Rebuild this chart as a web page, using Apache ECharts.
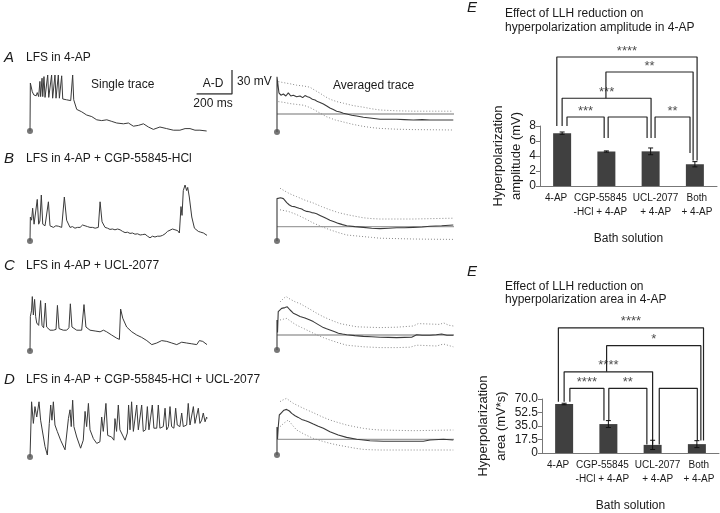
<!DOCTYPE html>
<html><head><meta charset="utf-8">
<script src="https://cdn.jsdelivr.net/npm/echarts/dist/echarts.min.js"></script>
<style>html,body{margin:0;padding:0;background:#fff}#c{width:720px;height:513px}</style>
</head><body><div id="c"></div>
<script>
// ---------------- DATA ----------------
// Time in ms, membrane potential in mV (relative)
const traceA = [[0,0],[2,60],[13,49],[22,45],[28,47],[35,44],[41,48],[49,43],[56,62],[60,43],[68,66],[72,43],[79,68],[85,42],[100,70],[106,42],[122,70],[128,41],[141,70],[147,41],[160,70],[166,41],[179,69],[185,40],[207,39],[230,38],[241,70],[247,39],[264,27],[292,24],[320,20],[349,18],[377,14],[405,13],[434,14],[462,12],[490,10],[528,9],[556,10],[584,6],[612,7],[641,9],[669,5],[697,2],[734,5],[772,3],[810,1],[847,1],[876,3],[904,3],[932,1],[960,1],[998,0]];
const avgMeanA = [[0,0],[0,69],[11,49],[22,46],[36,47.5],[50,45],[64,49],[78,45],[92,46],[111,44],[130,45],[145,43],[158,45.5],[172,44],[186,43],[200,41],[215,40],[229,38],[243,37],[262,35],[281,32.5],[299,30],[318,28],[337,26],[356,25],[375,23.5],[394,22.5],[422,21],[450,20],[488,18.5],[525,17.5],[582,16],[630,16],[676,16],[720,15.5],[770,15],[820,15.5],[864,15],[930,15],[996,15]];
const avgUpperA = [[8,63],[30,62],[55,61],[80,60],[111,58.5],[150,57.5],[186,56],[215,52],[243,48.5],[270,44.5],[299,41],[337,38],[375,36],[430,33],[488,31],[535,29],[582,27.5],[676,26.5],[770,26],[880,26],[996,26]];
const avgLowerA = [[8,38],[40,37],[74,35.5],[110,34.5],[149,33.5],[175,31.5],[196,29.5],[240,24],[281,19],[330,15],[375,12.5],[430,9.5],[488,7],[535,5.5],[582,4.5],[676,3.5],[770,3],[880,2.8],[996,2.5]];
const baselineA = 22.5;

const traceB = [[0,0],[2,30],[9,26],[15,41],[23,21],[30,23],[41,52],[49,21],[56,25],[64,57.5],[72,21],[85,19],[104,49],[113,19],[132,17],[146,19],[160,18.5],[179,17],[194,55],[207,26],[226,17],[240,18],[254,16],[268,17],[283,17],[297,20],[311,19],[325,18],[339,17],[354,17],[368,16],[386,17],[396,49],[407,24],[424,17],[438,16],[452,14.5],[466,15],[480,14],[495,15],[509,14],[523,12],[537,10.5],[551,11],[565,9.5],[579,10],[593,8.5],[608,9],[622,7.5],[636,8],[650,8.5],[664,6],[678,4],[692,6],[706,5],[720,6],[735,6],[749,7],[763,9],[777,12],[791,13.5],[805,15],[819,14],[834,13],[844,10],[853,43],[859,32],[866,63],[876,70],[885,63],[891,67],[900,55],[914,30],[929,16],[940,14],[951,12],[965,11],[980,10],[990,9],[1000,7]];
const avgMeanB = [[0,0],[0,53],[7,51],[20,54],[36,53],[55,48],[70,45],[83,43.5],[97,43],[111,42],[125,41],[140,40],[154,38],[168,37],[182,36.5],[196,35.5],[210,35],[224,34],[243,32],[262,30],[280,28],[299,26],[323,24],[347,22],[370,20.5],[394,19],[440,18],[488,17],[535,16],[582,15.5],[630,16],[676,16.5],[720,16.5],[770,17],[820,17.5],[864,18.5],[930,19],[996,20]];
const avgUpperB = [[17,66],[40,63],[64,60],[88,57.5],[111,55.5],[158,51],[205,47.5],[252,43],[299,39],[347,35.5],[394,33],[440,31],[488,29],[535,28],[582,27.5],[676,27.5],[770,27.5],[880,28],[996,28.5]];
const avgLowerB = [[17,39],[40,38],[64,37],[88,35],[111,33],[158,28],[205,22.5],[252,18],[299,14],[347,10.5],[394,7.5],[440,6.5],[488,5.5],[535,4.5],[582,3.5],[676,3],[770,2.5],[880,2.2],[996,2]];
const baselineB = 18;

const traceC = [[0,0],[2,43],[9,51],[13,68],[19,45],[26,64.5],[32,43],[38,35],[49,32],[60,63],[68,32],[77,29],[87,60],[94,30],[113,26],[132,26],[147,27],[155,57],[164,28],[188,26],[207,26],[220,29],[228,59],[237,30],[264,26],[292,26],[305,58],[316,30],[339,26],[368,25],[396,24],[415,26],[433,24],[461,20],[490,16],[505,14.5],[512,52.5],[524,41],[546,30],[575,24],[603,20],[631,17],[660,13],[688,8],[716,10],[744,13],[773,12],[801,10],[829,8],[857,11],[885,10],[914,9],[942,8],[957,13],[976,12],[1000,8]];
const avgMeanC = [[0,0],[0,37.5],[3,22],[7,48],[26,52],[45,53],[58,54],[74,50],[92,46],[111,44],[130,42],[158,40],[186,37.5],[205,35.5],[224,33],[243,30.5],[262,28],[280,26.5],[299,25],[323,23],[347,21],[370,20],[394,19],[440,18],[488,17],[535,16.5],[582,16],[630,15.8],[676,15.5],[720,15.8],[761,16],[789,19],[820,18.5],[864,18.5],[900,19],[930,20],[960,18.5],[996,18.5]];
const avgUpperC = [[17,60],[35,64],[51,67],[67,64.5],[83,62.5],[105,60],[130,58],[158,54.5],[186,51],[224,46],[262,41.5],[309,37],[356,33],[403,31],[450,29],[516,28.5],[582,28],[676,28.5],[770,30],[798,33],[860,32.5],[921,32],[940,34],[970,31],[996,30]];
const avgLowerC = [[17,37.5],[36,38.5],[55,39.5],[83,35],[111,31],[140,28],[168,25],[196,22],[224,19],[262,15.5],[299,12.5],[347,9],[394,6],[440,5],[488,4],[535,3.5],[582,3],[676,3],[752,3.5],[789,6],[850,5.5],[902,5],[940,7.5],[996,4]];
const baselineC = 18.75;

const traceD = [[0,0],[9,69],[19,42],[28,63],[38,50],[51,69],[60,46],[72,30],[85,13],[98,2.5],[109,42],[117,65],[124,46],[132,69],[141,40],[154,32],[173,21],[198,9],[217,48],[226,59],[233,38],[241,71],[248,38],[264,25],[286,11],[301,21],[311,57],[320,38],[330,67],[339,34],[358,23],[377,17],[395,19],[405,50],[414,32],[429,67],[439,27],[461,25],[474,21],[480,48],[489,32],[499,65],[508,34],[537,21],[550,30],[557,65],[565,34],[574,69],[584,32],[593,30],[603,65],[612,34],[621,32],[631,65],[640,32],[653,34],[663,63],[672,34],[682,32],[691,65],[700,36],[716,36],[725,65],[734,36],[753,38],[763,61],[772,34],[782,38],[791,63],[800,38],[813,36],[823,61],[832,40],[847,38],[857,55],[866,38],[885,40],[894,67],[904,40],[913,42],[923,63],[932,42],[941,44],[951,61],[960,42],[970,46],[979,55],[989,44],[998,50],[1000,48]];
const avgMeanD = [[0,0],[0,35],[3,20],[7,35],[13,50],[26,53],[39,56],[54,57],[70,55],[83,52],[102,49],[120,47],[139,44.5],[158,43],[177,41.6],[205,38.7],[233,36],[262,33.3],[299,29.2],[346,25],[393,22],[450,19.6],[525,17.9],[601,17.1],[714,17.1],[827,17.1],[864,18.75],[940,19.6],[996,18.75]];
const avgUpperD = [[17,66.7],[35,69],[54,70.8],[73,67.5],[92,64.6],[130,60.4],[168,56.5],[205,52.9],[252,48],[299,43.75],[346,40.5],[393,37.5],[440,35.3],[488,33.3],[535,32],[582,31.25],[676,30.8],[770,30.4],[880,30.8],[996,31.25]];
const avgLowerD = [[17,35.4],[40,40],[64,43.75],[88,37],[111,31.25],[158,25.5],[205,20.8],[252,17.5],[299,14.6],[346,12.3],[393,10.4],[440,8.5],[488,7],[535,6.5],[582,6.25],[676,6.25],[770,6.25],[880,6.25],[996,6.25]];
const baselineD = 19.6;

const scaleBarMs = 200, scaleBarMv = 30;

const categories = ['4-AP', 'CGP-55845\n-HCl + 4-AP', 'UCL-2077\n+ 4-AP', 'Both\n+ 4-AP'];
const ampValues = [7.05, 4.6, 4.62, 2.9];
const ampErrors = [0.15, 0.08, 0.45, 0.35];
const ampTicks = [0, 2, 4, 6, 8];
const areaValues = [63.5, 37.5, 10.5, 11.5];
const areaErrors = [1, 4.5, 6, 4.5];
const areaTicks = [0, 17.5, 35, 52.5, 70];
// comparisons: [group i, group j, significance]
const ampComparisons = [[0,1,'***'],[1,2,''],[2,3,'**'],[0,2,'***'],[1,3,'**'],[0,3,'****']];
const areaComparisons = [[0,1,'****'],[1,2,'**'],[2,3,''],[0,2,'****'],[1,3,'*'],[0,3,'****']];

// ---------------- LAYOUT ----------------
const FONT = '"Liberation Sans", Arial, Helvetica, sans-serif';
const TXT = '#1a1a1a';
const MS_SPAN = 1000, PX_SPAN = 177, MV_PER_PX = 1.25, V_MIN = -15, V_MAX = 85;
// bracket geometry: [leftX, rightX, levelY, leftEndY, rightEndY] (data units)
const ampBracketLayout = [[0.11,0.95,9.2,8.0,6.4],[1.04,1.92,9.2,6.4,6.4],[2.10,2.89,9.2,6.4,4.4],[0.0,2.01,11.7,8.0,6.4],[0.99,2.96,15.2,11.7,3.4],[-0.12,3.05,17.2,8.0,3.4]];
const areaBracketLayout = [[0.13,0.90,83.4,66.6,43],[1.01,1.87,83.4,43,13],[2.15,3.01,83.4,13,18],[0.0,2.0,104,66.6,13],[0.96,3.09,136.6,104,18],[-0.13,3.15,159,66.6,18]];
// horizontal nudges of category labels (px, negative = left)
const labelShift = [-6, -6, 5, 2];

const grids = [], xAxes = [], yAxes = [], series = [];
function addGrid(g, x, y) {
  const gi = grids.length;
  grids.push(g);
  xAxes.push(Object.assign({ gridIndex: gi }, x));
  yAxes.push(Object.assign({ gridIndex: gi }, y));
  return gi;
}
function traceGrid(left, y0) {
  return addGrid({ left: left, top: y0 - V_MAX / MV_PER_PX, width: PX_SPAN, height: (V_MAX - V_MIN) / MV_PER_PX },
    { type: 'value', min: 0, max: MS_SPAN, show: false },
    { type: 'value', min: V_MIN, max: V_MAX, show: false });
}
function lineS(gi, data, style, z) {
  series.push({ type: 'line', xAxisIndex: gi, yAxisIndex: gi, data: data, symbol: 'none', silent: true,
    lineStyle: style, z: z || 2, animation: false });
}
function dotS(gi, pt) {
  series.push({ type: 'scatter', xAxisIndex: gi, yAxisIndex: gi, data: [pt], symbolSize: 6,
    itemStyle: { color: '#555' }, z: 5, animation: false });
}

const panels = [
  { single: traceA, mean: avgMeanA, up: avgUpperA, lo: avgLowerA, base: baselineA, y0s: [131, 132] },
  { single: traceB, mean: avgMeanB, up: avgUpperB, lo: avgLowerB, base: baselineB, y0s: [241, 241] },
  { single: traceC, mean: avgMeanC, up: avgUpperC, lo: avgLowerC, base: baselineC, y0s: [351, 350] },
  { single: traceD, mean: avgMeanD, up: avgUpperD, lo: avgLowerD, base: baselineD, y0s: [457, 455] }
];
panels.forEach(p => {
  const g1 = traceGrid(30, p.y0s[0]);
  lineS(g1, p.single, { color: '#3a3a3a', width: 1 });
  dotS(g1, p.single[0]);
  const g2 = traceGrid(277, p.y0s[1]);
  lineS(g2, [[0, p.base], [MS_SPAN, p.base]], { color: '#a0a0a0', width: 1.3 }, 1);
  lineS(g2, p.up, { color: '#8a8a8a', width: 1, type: [1, 2] });
  lineS(g2, p.lo, { color: '#8a8a8a', width: 1, type: [1, 2] });
  lineS(g2, p.mean, { color: '#3a3a3a', width: 1.1 }, 3);
  dotS(g2, p.mean[0]);
});

// scale bar
const gs = addGrid({ left: 196.6, top: 70, width: scaleBarMs / MS_SPAN * PX_SPAN, height: scaleBarMv / MV_PER_PX },
  { type: 'value', min: 0, max: scaleBarMs, show: false },
  { type: 'value', min: 0, max: scaleBarMv, show: false });
lineS(gs, [[0, 0], [scaleBarMs, 0], [scaleBarMs, scaleBarMv]], { color: '#333', width: 1.3 });

// category label rich styles (shifted via asymmetric padding)
const labelRich = {};
labelShift.forEach((s, i) => {
  labelRich['s' + i] = { fontSize: 10, lineHeight: 14, color: TXT, fontFamily: FONT,
    padding: s < 0 ? [0, -2 * s, 0, 0] : [0, 0, 0, 2 * s] };
});
function catFormatter(v, i) {
  return v.split('\n').map(s => '{s' + i + '|' + s + '}').join('\n');
}

// bar charts
function barChart(box, ticks, fmt, values, errs, yName, nameGap, comps, bl, ovMax) {
  const yMax = ticks[ticks.length - 1], interval = ticks[1] - ticks[0];
  const gi = addGrid({ left: box.left, top: box.top, width: box.width, height: box.height },
    { type: 'category', data: categories, axisTick: { show: false },
      axisLine: { lineStyle: { color: '#777', width: 1 } },
      axisLabel: { interval: 0, fontSize: 10, lineHeight: 14, margin: 5, color: TXT, fontFamily: FONT,
        formatter: catFormatter, rich: labelRich },
      name: 'Bath solution', nameLocation: 'middle', nameGap: 47,
      nameTextStyle: { fontSize: 12, color: TXT, fontFamily: FONT } },
    { type: 'value', min: 0, max: yMax, interval: interval, splitLine: { show: false },
      axisLine: { show: true, lineStyle: { color: '#777', width: 1 } },
      axisTick: { show: true, length: 4, lineStyle: { color: '#777' } },
      axisLabel: { fontSize: 12, margin: 4, color: TXT, fontFamily: FONT, formatter: fmt },
      name: yName, nameLocation: 'middle', nameRotate: 90, nameGap: nameGap,
      nameTextStyle: { fontSize: 13, lineHeight: 18, color: TXT, fontFamily: FONT, align: 'center' } });
  series.push({ type: 'bar', xAxisIndex: gi, yAxisIndex: gi, data: values, barWidth: 18,
    itemStyle: { color: '#404040' }, animation: false, silent: true });
  series.push({ type: 'custom', xAxisIndex: gi, yAxisIndex: gi, animation: false, silent: true, z: 4,
    data: values.map((v, i) => [i, v, errs[i]]),
    renderItem: function (params, api) {
      const x = api.value(0), v = api.value(1), e = api.value(2);
      const hi = api.coord([x, v + e]), lo = api.coord([x, v - e]);
      const w = 2.5, st = { stroke: '#111', lineWidth: 1 };
      return { type: 'group', children: [
        { type: 'line', shape: { x1: hi[0], y1: hi[1], x2: lo[0], y2: lo[1] }, style: st },
        { type: 'line', shape: { x1: hi[0] - w, y1: hi[1], x2: hi[0] + w, y2: hi[1] }, style: st },
        { type: 'line', shape: { x1: lo[0] - w, y1: lo[1], x2: lo[0] + w, y2: lo[1] }, style: st }
      ] };
    } });
  // overlay for significance brackets (same vertical scale)
  const pxPerUnit = box.height / yMax;
  const oh = ovMax * pxPerUnit;
  const go = addGrid({ left: box.left, top: box.top + box.height - oh, width: box.width, height: oh },
    { type: 'value', min: -0.5, max: categories.length - 0.5, show: false },
    { type: 'value', min: 0, max: ovMax, show: false });
  comps.forEach((c, k) => {
    const L = bl[k];
    lineS(go, [[L[0], L[3]], [L[0], L[2]], [L[1], L[2]], [L[1], L[4]]], { color: '#222', width: 1.2 }, 3);
    if (c[2]) {
      series.push({ type: 'scatter', xAxisIndex: go, yAxisIndex: go, symbolSize: 1, animation: false, silent: true,
        itemStyle: { color: 'rgba(0,0,0,0)' },
        data: [{ value: [(L[0] + L[1]) / 2, L[2]], name: c[2] }],
        label: { show: true, position: 'top', distance: -1, formatter: '{b}', fontSize: 13, color: TXT, fontFamily: FONT } });
    }
  });
}
barChart({ left: 540, top: 126, width: 177, height: 60 }, ampTicks, v => String(v), ampValues, ampErrors,
  'Hyperpolarization\namplitude (mV)', 13, ampComparisons, ampBracketLayout, 20);
barChart({ left: 542, top: 399, width: 177, height: 56 }, areaTicks, v => v === 0 ? '0' : v.toFixed(1), areaValues, areaErrors,
  'Hyperpolarization\narea (mV*s)', 28, areaComparisons, areaBracketLayout, 175);

// texts
function txt(x, y, s, size, extra) {
  return Object.assign({ type: 'text', x: x, y: y, silent: true,
    style: Object.assign({ text: s, fontSize: size, fontFamily: FONT, fill: TXT, textVerticalAlign: 'middle' }, extra || {}) });
}
const graphics = [
  txt(4, 58, 'A', 15, { fontStyle: 'italic' }), txt(26, 58, 'LFS in 4-AP', 12),
  txt(4, 159, 'B', 15, { fontStyle: 'italic' }), txt(26, 159, 'LFS in 4-AP + CGP-55845-HCl', 12),
  txt(4, 266, 'C', 15, { fontStyle: 'italic' }), txt(26, 266, 'LFS in 4-AP + UCL-2077', 12),
  txt(4, 380, 'D', 15, { fontStyle: 'italic' }), txt(26, 380, 'LFS in 4-AP + CGP-55845-HCl + UCL-2077', 12),
  txt(91, 85, 'Single trace', 12), txt(333, 86, 'Averaged trace', 12),
  txt(213, 84, 'A-D', 12, { textAlign: 'center' }), txt(237, 82, '30 mV', 12), txt(213, 104, '200 ms', 12, { textAlign: 'center' }),
  txt(467, 8, 'E', 15, { fontStyle: 'italic' }),
  txt(505, 14, 'Effect of LLH reduction on', 12), txt(505, 28, 'hyperpolarization amplitude in 4-AP', 12),
  txt(467, 272, 'E', 15, { fontStyle: 'italic' }),
  txt(505, 287, 'Effect of LLH reduction on', 12), txt(505, 300, 'hyperpolarization area in 4-AP', 12)
];

const chart = echarts.init(document.getElementById('c'), null, { renderer: 'canvas' });
chart.setOption({
  animation: false,
  backgroundColor: '#fff',
  grid: grids, xAxis: xAxes, yAxis: yAxes, series: series, graphic: graphics
});
</script></body></html>
